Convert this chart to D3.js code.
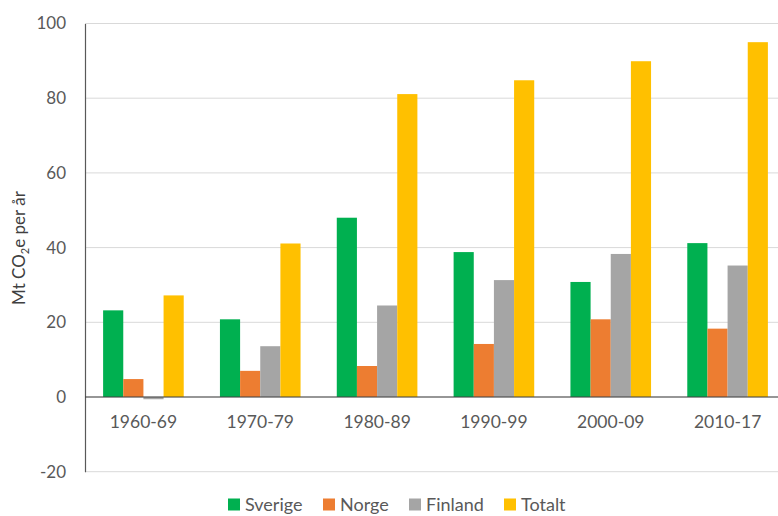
<!DOCTYPE html>
<html><head><meta charset="utf-8">
<script src="https://cdn.jsdelivr.net/npm/d3@7/dist/d3.min.js"></script>
<style>body{margin:0;background:#fff}svg{display:block}text{font-family:Lato,"Open Sans",sans-serif}</style>
</head><body><svg id="c" width="778" height="516"></svg>
<script>
const categories = ["1960-69","1970-79","1980-89","1990-99","2000-09","2010-17"];
const seriesNames = ["Sverige","Norge","Finland","Totalt"];
const sverige = [23.2, 20.8, 48.0, 38.8, 30.8, 41.2];
const norge   = [4.8, 7.0, 8.3, 14.2, 20.8, 18.3];
const finland = [-0.6, 13.6, 24.5, 31.3, 38.3, 35.2];
const totalt  = [27.2, 41.1, 81.1, 84.8, 89.9, 95.0];
const yTicks = [-20, 0, 20, 40, 60, 80, 100];
const colors = ["#00b050", "#ed7d31", "#a5a5a5", "#ffc000"];

(function(){
const values = [sverige, norge, finland, totalt];
const svg = d3.select("#c");
const mLeft = 85, mRight = 786, mTop = 23.5, mBottom = 471.7;
const x0 = d3.scaleBand().domain(categories).range([mLeft, mRight]).paddingInner(0.31).paddingOuter(0.155);
const x1 = d3.scaleBand().domain(seriesNames).range([0, x0.bandwidth()]);
const y = d3.scaleLinear().domain([-20, 100]).range([mBottom, mTop]);

svg.append("g").selectAll("line").data(yTicks).join("line")
  .attr("x1", mLeft).attr("x2", 778).attr("y1", d => y(d)).attr("y2", d => y(d))
  .attr("stroke", "#d9d9d9").attr("stroke-width", 1);

const yAxis = d3.axisLeft(y).tickValues(yTicks).tickSize(0).tickPadding(19).tickFormat(d => String(d));
const gy = svg.append("g").attr("transform", `translate(${mLeft},0)`).call(yAxis);
gy.select(".domain").attr("stroke", "#595959").attr("stroke-width", 1.2);
gy.selectAll("text").attr("font-size", 17).attr("fill", "#595959");

const groups = svg.append("g").selectAll("g").data(categories).join("g")
  .attr("transform", d => `translate(${x0(d)},0)`);
groups.selectAll("rect").data((c, i) => seriesNames.map((s, j) => ({s, v: values[j][i], j})))
  .join("rect")
  .attr("x", d => x1(d.s)).attr("width", x1.bandwidth())
  .attr("y", d => y(Math.max(0, d.v))).attr("height", d => Math.abs(y(d.v) - y(0)))
  .attr("fill", d => colors[d.j]);

const xAxis = d3.axisBottom(x0).tickSize(0).tickPadding(19);
const gx = svg.append("g").attr("transform", `translate(0,${y(0)})`).call(xAxis);
gx.select(".domain").attr("stroke", "#404040").attr("stroke-width", 1.2).attr("d", `M${mLeft},0H778`);
gx.selectAll("text").attr("font-size", 17.5).attr("fill", "#595959");

const yl = svg.append("text").attr("transform", `translate(25,248) rotate(-90)`)
  .attr("text-anchor", "middle").attr("font-size", 17).attr("fill", "#404040");
yl.append("tspan").text("Mt CO");
yl.append("tspan").text("2").attr("font-size", 11).attr("dy", 4);
yl.append("tspan").text("e per år").attr("dy", -4);

const legX = [228, 323, 409, 504];
const leg = svg.append("g").selectAll("g").data(seriesNames).join("g")
  .attr("transform", (d, i) => `translate(${legX[i]},0)`);
leg.append("rect").attr("x", 0).attr("y", 498.5).attr("width", 12).attr("height", 12).attr("fill", (d, i) => colors[i]);
leg.append("text").attr("x", 17).attr("y", 511).attr("font-size", 18).attr("fill", "#595959").text(d => d);
})();
</script></body></html>
